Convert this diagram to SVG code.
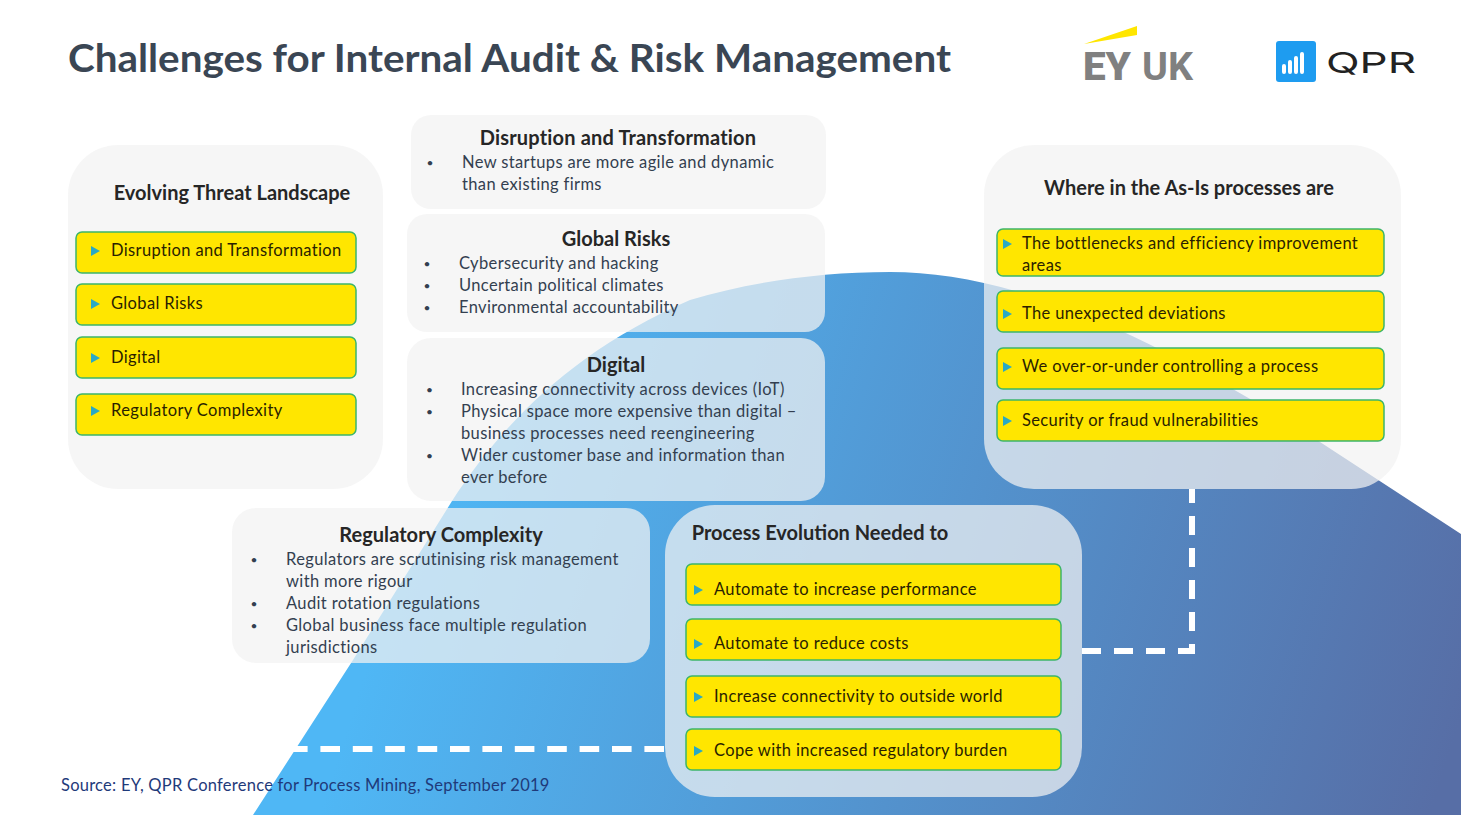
<svg xmlns="http://www.w3.org/2000/svg" width="1461" height="815" viewBox="0 0 1461 815">
<defs>
<linearGradient id="dome" gradientUnits="userSpaceOnUse" x1="400" y1="560" x2="1410" y2="880">
<stop offset="0" stop-color="#4FB7F5"/><stop offset="1" stop-color="#576EA6"/>
</linearGradient>
</defs>
<style>
text{font-family:"Lato","Carlito","Liberation Sans",sans-serif;fill:#333F50;font-size:16.5px;letter-spacing:.36px}
.h{font-size:20px;font-weight:700;fill:#262626;text-anchor:middle;letter-spacing:0}
.d{font-size:12px;letter-spacing:0}
.p{fill:#F2F2F2;fill-opacity:.72}
.b{fill:#FFE600;stroke:#3DB56A;stroke-width:1.5}
.t{fill:#2A1F00}
.a{fill:#2AA9C4}
.c{fill:none;stroke:#fff;stroke-width:6}
</style>
<rect width="1461" height="815" fill="#fff"/>
<path d="M253 815 L353 660 L452 501 C505 420 575 350 690 300 C750 282 820 272 890 272 C1000 272 1130 320 1320 442 L1461 534 V815Z" fill="url(#dome)"/>
<text x="68" y="72" style="font-size:39px;font-weight:700;fill:#3A4654;letter-spacing:0" textLength="883" lengthAdjust="spacingAndGlyphs">Challenges for Internal Audit &amp; Risk Management</text>
<g id="logo-ey"><polygon points="1084,44 1137,26 1137,35" fill="#FFE600"/>
<text x="1083" y="80" style="font-family:Roboto,sans-serif;font-size:38px;font-weight:900;fill:#808080;letter-spacing:0" textLength="48" lengthAdjust="spacingAndGlyphs">EY</text>
<text x="1142" y="80" style="font-family:Roboto,sans-serif;font-size:38px;font-weight:700;fill:#808080;letter-spacing:0" textLength="51" lengthAdjust="spacingAndGlyphs">UK</text></g>
<g id="logo-qpr"><rect x="1276" y="41" width="40" height="41" rx="3" fill="#1E9CF0"/>
<path d="M1284 72v-6M1290 72v-10M1296 72v-14M1302 72v-18" stroke="#fff" stroke-width="4" stroke-linecap="round" fill="none"/>
<text x="1326" y="73" style="font-family:Inter,sans-serif;font-size:29px;fill:#222;letter-spacing:0" textLength="90" lengthAdjust="spacingAndGlyphs">QPR</text></g>
<g id="connectors"><path class="c" stroke-dasharray="19 13" stroke-dashoffset="5" d="M1192 489V654"/><path class="c" stroke-dasharray="19 13" d="M1082 651H1195"/><path class="c" stroke-dasharray="19.6 12.8" d="M664 749H293"/></g>
<g id="threat"><rect class="p" x="68" y="145" width="315" height="344" rx="50"/>
<text class="h" x="232" y="200.4">Evolving Threat Landscape</text></g>
<g id="threat-1"><rect class="b" x="76" y="232" width="280" height="41" rx="6"/><polygon class="a" points="91,246 91,256 100,251"/><text class="t" x="111" y="256">Disruption and Transformation</text></g>
<g id="threat-2"><rect class="b" x="76" y="284" width="280" height="41" rx="6"/><polygon class="a" points="91,299 91,309 100,304"/><text class="t" x="111" y="309">Global Risks</text></g>
<g id="threat-3"><rect class="b" x="76" y="337" width="280" height="41" rx="6"/><polygon class="a" points="91,353 91,363 100,358"/><text class="t" x="111" y="363">Digital</text></g>
<g id="threat-4"><rect class="b" x="76" y="394" width="280" height="41" rx="6"/><polygon class="a" points="91,406 91,416 100,411"/><text class="t" x="111" y="416">Regulatory Complexity</text></g>
<g id="disruption"><rect class="p" x="411" y="115" width="415" height="94" rx="20"/>
<text class="h" x="618" y="145.4" style="letter-spacing:.17px">Disruption and Transformation</text>
<text class="d" x="426.4" y="167">•</text><text x="462" y="168">New startups are more agile and dynamic</text><text x="462" y="190">than existing firms</text></g>
<g id="global"><rect class="p" x="407" y="214" width="418" height="118" rx="20"/>
<text class="h" x="616" y="246.4">Global Risks</text>
<text class="d" x="423.4" y="268">•</text><text x="459" y="269">Cybersecurity and hacking</text>
<text class="d" x="423.4" y="290">•</text><text x="459" y="291">Uncertain political climates</text>
<text class="d" x="423.4" y="312">•</text><text x="459" y="313">Environmental accountability</text></g>
<g id="digital"><rect class="p" x="407" y="338" width="418" height="163" rx="24"/>
<text class="h" x="616" y="372.4">Digital</text>
<text class="d" x="426" y="394">•</text><text x="461" y="395">Increasing connectivity across devices (IoT)</text>
<text class="d" x="426" y="416">•</text><text x="461" y="417">Physical space more expensive than digital –</text>
<text x="461" y="439">business processes need reengineering</text>
<text class="d" x="426" y="460">•</text><text x="461" y="461">Wider customer base and information than</text>
<text x="461" y="483">ever before</text></g>
<g id="regulatory"><rect class="p" x="232" y="508" width="418" height="155" rx="24"/>
<text class="h" x="441" y="542.4" style="letter-spacing:.05px">Regulatory Complexity</text>
<text class="d" x="250.4" y="564">•</text><text x="286" y="565">Regulators are scrutinising risk management</text>
<text x="286" y="587">with more rigour</text>
<text class="d" x="250.4" y="608">•</text><text x="286" y="609">Audit rotation regulations</text>
<text class="d" x="250.4" y="630">•</text><text x="286" y="631">Global business face multiple regulation</text>
<text x="286" y="653">jurisdictions</text></g>
<g id="asis"><rect class="p" x="984" y="145" width="417" height="344" rx="50"/>
<text class="h" x="1189" y="195.4">Where in the As-Is processes are</text></g>
<g id="asis-1"><rect class="b" x="997" y="229" width="387" height="47" rx="6"/><polygon class="a" points="1003,239 1003,249 1012,244"/><text class="t" x="1022" y="249">The bottlenecks and efficiency improvement</text><text class="t" x="1022" y="271">areas</text></g>
<g id="asis-2"><rect class="b" x="997" y="291" width="387" height="41" rx="6"/><polygon class="a" points="1003,309 1003,319 1012,314"/><text class="t" x="1022" y="319">The unexpected deviations</text></g>
<g id="asis-3"><rect class="b" x="997" y="348" width="387" height="41" rx="6"/><polygon class="a" points="1003,362 1003,372 1012,367"/><text class="t" x="1022" y="372">We over-or-under controlling a process</text></g>
<g id="asis-4"><rect class="b" x="997" y="400" width="387" height="41" rx="6"/><polygon class="a" points="1003,416 1003,426 1012,421"/><text class="t" x="1022" y="426">Security or fraud vulnerabilities</text></g>
<g id="evolution"><rect class="p" x="665" y="505" width="417" height="292" rx="50"/>
<text class="h" x="820" y="540.4">Process Evolution Needed to</text></g>
<g id="evo-1"><rect class="b" x="686" y="564" width="375" height="41" rx="6"/><polygon class="a" points="694,585 694,595 703,590"/><text class="t" x="714" y="595">Automate to increase performance</text></g>
<g id="evo-2"><rect class="b" x="686" y="619" width="375" height="41" rx="6"/><polygon class="a" points="694,639 694,649 703,644"/><text class="t" x="714" y="649">Automate to reduce costs</text></g>
<g id="evo-3"><rect class="b" x="686" y="676" width="375" height="41" rx="6"/><polygon class="a" points="694,692 694,702 703,697"/><text class="t" x="714" y="702">Increase connectivity to outside world</text></g>
<g id="evo-4"><rect class="b" x="686" y="729" width="375" height="41" rx="6"/><polygon class="a" points="694,746 694,756 703,751"/><text class="t" x="714" y="756">Cope with increased regulatory burden</text></g>
<text x="61" y="791" style="fill:#1F3A7A;letter-spacing:.25px">Source: EY, QPR Conference for Process Mining, September 2019</text>
</svg>
